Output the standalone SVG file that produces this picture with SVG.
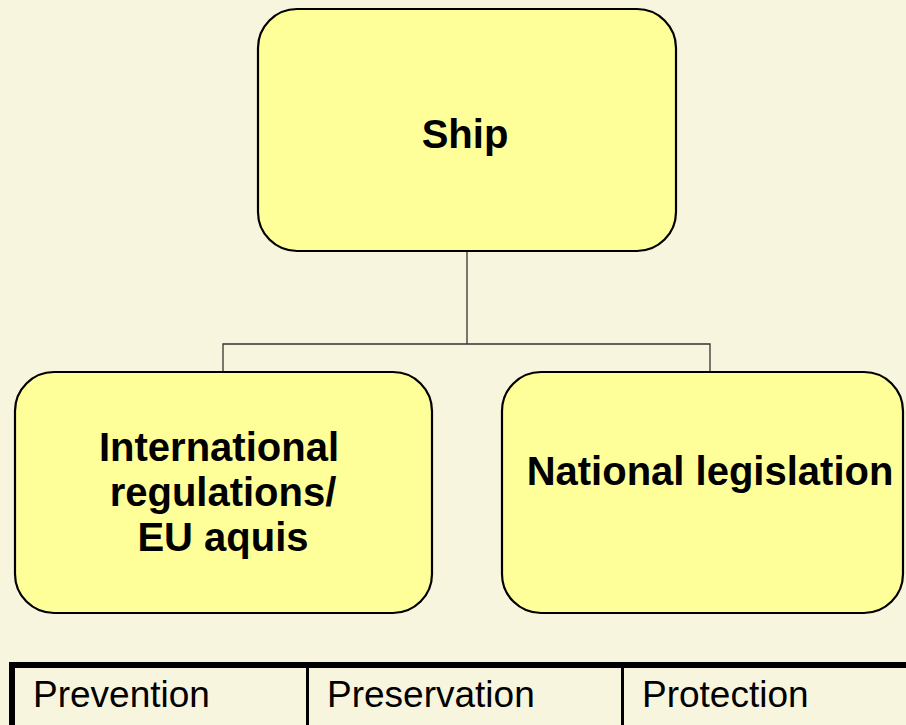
<svg xmlns="http://www.w3.org/2000/svg" width="906" height="725" viewBox="0 0 906 725">
<style>
.node{fill:#FFFF99;stroke:#000;stroke-width:2.2}
.lbl{font-family:"Liberation Sans",Arial,sans-serif;font-weight:bold;font-size:40px;fill:#000;text-anchor:middle}
.cell{font-family:"Liberation Sans",Arial,sans-serif;font-size:37px;fill:#000}
.conn{fill:none;stroke:#333;stroke-width:1.3}
</style>
<rect x="0" y="0" width="906" height="725" fill="#F7F5DD"/>
<g id="connectors">
<path class="conn" d="M467 251 V344 M223 372 V344 H710 V372"/>
</g>
<g id="ship">
<rect class="node" x="258" y="9" width="418" height="242" rx="39" ry="39"/>
<text class="lbl" x="465" y="148">Ship</text>
</g>
<g id="international">
<rect class="node" x="15" y="372" width="417" height="241" rx="39" ry="39"/>
<text class="lbl" x="219" y="461">International</text>
<text class="lbl" x="223" y="506">regulations/</text>
<text class="lbl" x="223" y="551">EU aquis</text>
</g>
<g id="national">
<rect class="node" x="502" y="372" width="401" height="241" rx="39" ry="39"/>
<text class="lbl" x="710" y="485">National legislation</text>
</g>
<g id="table">
<path d="M12 725 V665 H906" fill="none" stroke="#000" stroke-width="6"/>
<path d="M307.5 668 V725 M622.5 668 V725" fill="none" stroke="#000" stroke-width="3"/>
<text class="cell" x="33" y="707">Prevention</text>
<text class="cell" x="327" y="707">Preservation</text>
<text class="cell" x="642" y="707">Protection</text>
</g>
</svg>
